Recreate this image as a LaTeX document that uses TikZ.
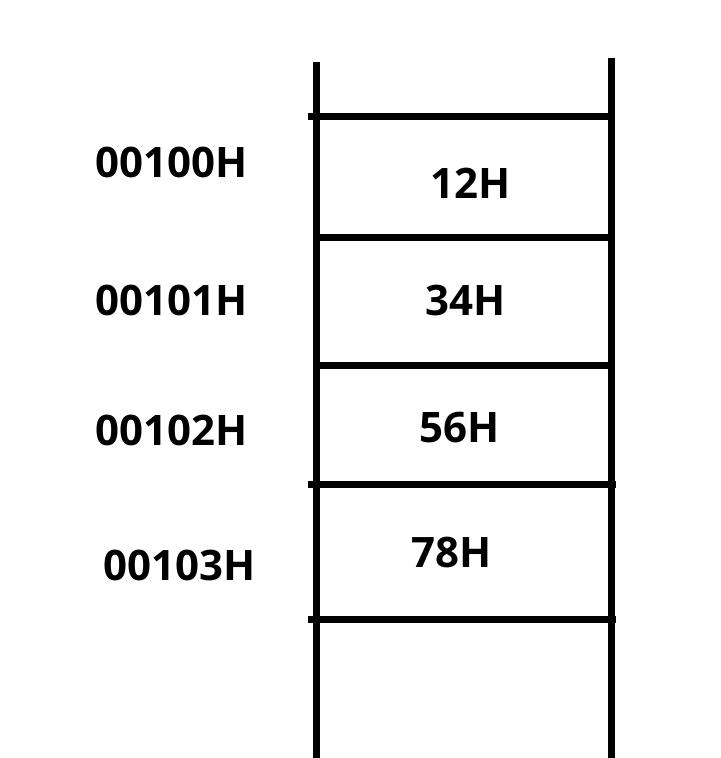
\documentclass[tikz,border=0pt]{standalone}
\usepackage{fontspec}
\setmainfont{Open Sans}
\usetikzlibrary{positioning,calc}

\begin{document}
\begin{tikzpicture}[x=0.5pt,y=-0.5pt]
        % Define styles
        \tikzstyle{addr} = [font=\fontsize{21}{24}\selectfont\bfseries, inner sep=0pt]
        \tikzstyle{cell} = [font=\fontsize{21}{24}\selectfont\bfseries, inner sep=0pt]
        \tikzstyle{wall} = [line width=3.5pt]

        \useasboundingbox (0,0) rectangle (720,758);

        % Nodes
        \node [addr] (a0) at (172,162) {00100H};
        \node [addr] (a1) at (172,300) {00101H};
        \node [addr] (a2) at (172,430) {00102H};
        \node [addr] (a3) at (180,565) {00103H};

        \node [cell] (v0) at (471,183) {12H};
        \node [cell] (v1) at (466,300) {34H};
        \node [cell] (v2) at (460,428) {56H};
        \node [cell] (v3) at (452,553) {78H};

        % Lines
        \draw [wall] (316,62) -- (316,758);
        \draw [wall] (611,58) -- (611,758);
        \draw [wall] (308,117) -- (611,117);
        \draw [wall] (316,238) -- (611,238);
        \draw [wall] (316,365) -- (611,365);
        \draw [wall] (308,484) -- (616,484);
        \draw [wall] (308,619) -- (616,619);

    \end{tikzpicture}
\end{document}
